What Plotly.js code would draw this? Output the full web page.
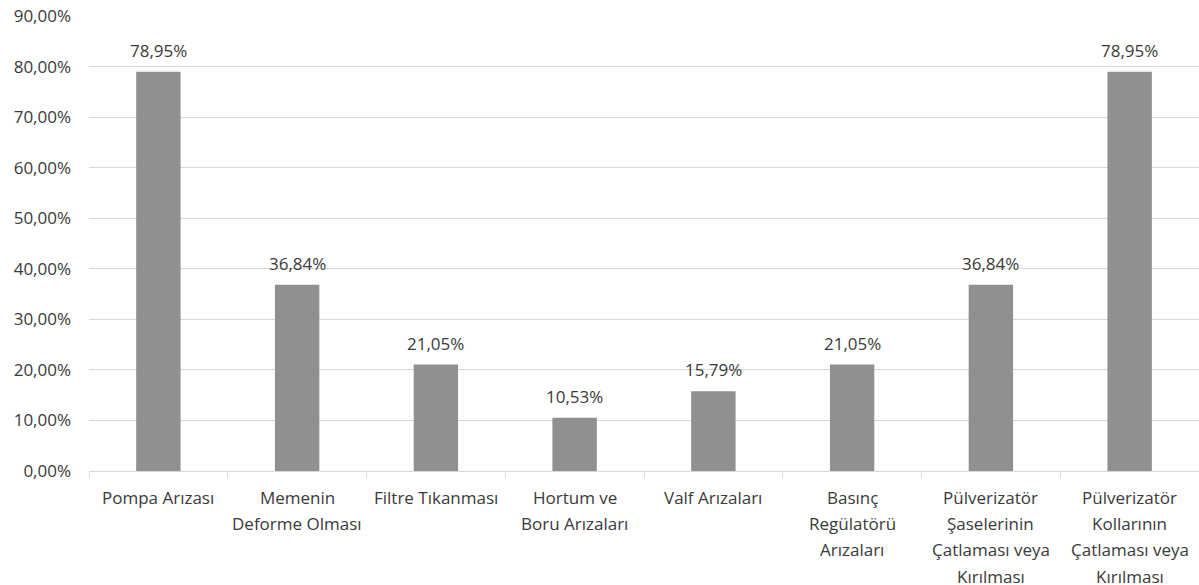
<!DOCTYPE html>
<html>
<head>
<meta charset="utf-8">
<script src="https://cdn.plot.ly/plotly-3.0.1.min.js"></script>
<style>html,body{margin:0;padding:0;background:#fff;}#chart{width:1199px;height:585px;}</style>
</head>
<body>
<div id="chart"></div>
<script>
const categories = [
  "Pompa Arızası",
  "Memenin Deforme Olması",
  "Filtre Tıkanması",
  "Hortum ve Boru Arızaları",
  "Valf Arızaları",
  "Basınç Regülatörü Arızaları",
  "Pülverizatör Şaselerinin Çatlaması veya Kırılması",
  "Pülverizatör Kollarının Çatlaması veya Kırılması"
];
const labelLines = [
  ["Pompa Arızası"],
  ["Memenin", "Deforme Olması"],
  ["Filtre Tıkanması"],
  ["Hortum ve", "Boru Arızaları"],
  ["Valf Arızaları"],
  ["Basınç", "Regülatörü", "Arızaları"],
  ["Pülverizatör", "Şaselerinin", "Çatlaması veya", "Kırılması"],
  ["Pülverizatör", "Kollarının", "Çatlaması veya", "Kırılması"]
];
const values = [0.7895, 0.3684, 0.2105, 0.1053, 0.1579, 0.2105, 0.3684, 0.7895];

const FONT = "'Open Sans', 'Noto Sans', sans-serif";
const TXT = "#3a3a3a";
const FS = 17;
const fmt = v => (v * 100).toFixed(2).replace('.', ',') + '%';

const annotations = [];
values.forEach((v, i) => {
  annotations.push({
    x: categories[i], y: v, xref: 'x', yref: 'y',
    text: fmt(v), showarrow: false, yanchor: 'bottom', yshift: 8,
    font: {family: FONT, size: FS, color: TXT}
  });
});
labelLines.forEach((lines, i) => {
  lines.forEach((ln, j) => {
    annotations.push({
      x: categories[i], y: 0, xref: 'x', yref: 'paper',
      text: ln, showarrow: false, yanchor: 'middle', yshift: -(26 + 26.4 * j),
      font: {family: FONT, size: FS, color: TXT}
    });
  });
});

const trace = {
  type: 'bar', x: categories, y: values,
  marker: {color: '#909090'},
  hoverinfo: 'skip'
};

const layout = {
  width: 1199, height: 585,
  margin: {l: 89, r: 0, t: 16, b: 114},
  paper_bgcolor: '#fff', plot_bgcolor: '#fff',
  separators: ',.',
  bargap: 0.68,
  showlegend: false,
  font: {family: FONT, size: FS, color: TXT},
  xaxis: {
    type: 'category', showticklabels: false,
    showline: true, linecolor: '#d9d9d9', linewidth: 1,
    ticks: 'outside', tickson: 'boundaries', ticklen: 6, tickcolor: '#d9d9d9', tickwidth: 1,
    showgrid: false, fixedrange: true
  },
  yaxis: {
    range: [0, 0.9], dtick: 0.1, tick0: 0, tickformat: '.2%',
    showgrid: true, gridcolor: '#d9d9d9', gridwidth: 1,
    zeroline: false, showline: false, ticks: '',
    ticklabelstandoff: 17,
    tickfont: {family: FONT, size: FS, color: TXT},
    fixedrange: true
  },
  annotations: annotations
};

Plotly.newPlot('chart', [trace], layout, {displayModeBar: false, staticPlot: true});
</script>
</body>
</html>
